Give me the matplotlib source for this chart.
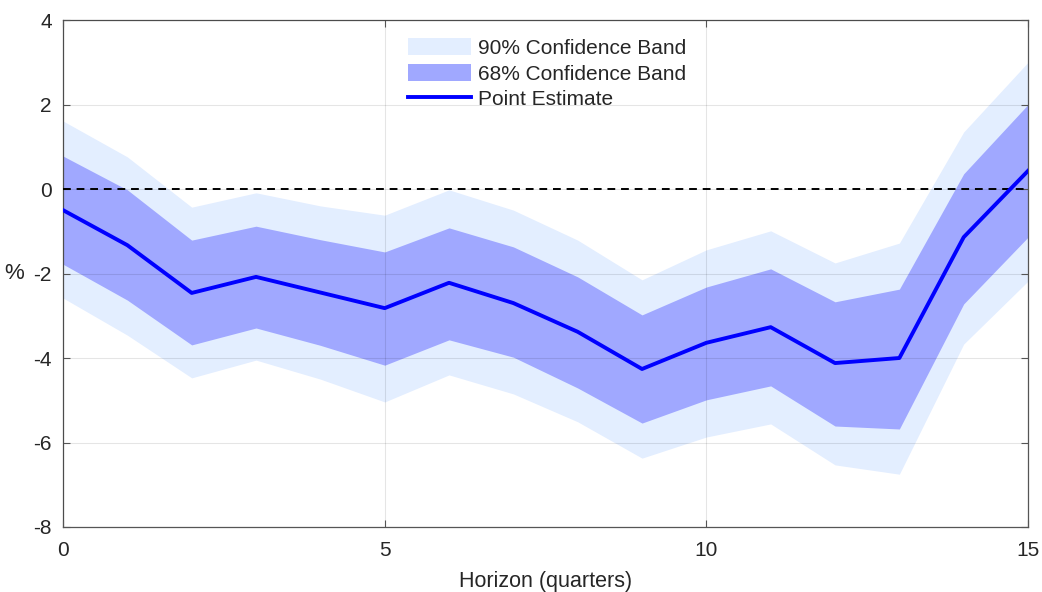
import matplotlib.pyplot as plt
import numpy as np

plt.rcParams['font.family'] = ['Liberation Sans', 'DejaVu Sans']
plt.rcParams['axes.unicode_minus'] = False

horizon = np.arange(16)
point = [-0.50, -1.33, -2.46, -2.08, -2.45, -2.82, -2.22, -2.70,
         -3.38, -4.26, -3.64, -3.27, -4.12, -4.00, -1.14, 0.43]
upper68 = [0.78, -0.02, -1.21, -0.88, -1.20, -1.49, -0.92, -1.37,
           -2.08, -2.98, -2.32, -1.89, -2.67, -2.37, 0.36, 2.00]
lower68 = [-1.78, -2.63, -3.69, -3.29, -3.70, -4.17, -3.57, -3.98,
           -4.71, -5.54, -4.99, -4.66, -5.61, -5.68, -2.72, -1.14]
upper90 = [1.61, 0.76, -0.43, -0.09, -0.40, -0.62, -0.02, -0.50,
           -1.21, -2.15, -1.44, -0.99, -1.75, -1.28, 1.35, 3.00]
lower90 = [-2.58, -3.46, -4.47, -4.05, -4.50, -5.04, -4.40, -4.85,
           -5.51, -6.37, -5.87, -5.56, -6.53, -6.75, -3.67, -2.18]

fig = plt.figure(figsize=(10.42, 5.92), dpi=100)
ax = fig.add_axes([0.0605, 0.1098, 0.9261, 0.8564])

ax.fill_between(horizon, lower90, upper90, color='#e3eeff', lw=0,
                label='90% Confidence Band', zorder=1)
ax.fill_between(horizon, lower68, upper68, color='#a0a8ff', lw=0,
                label='68% Confidence Band', zorder=2)
ax.plot(horizon, point, color='#0000ff', lw=2.8, label='Point Estimate', zorder=4)
ax.axhline(0, color='black', ls=(0, (4, 3)), lw=1.4, zorder=3)

ax.set_xlim(0, 15)
ax.set_ylim(-8, 4)
ax.set_xticks([0, 5, 10, 15])
ax.set_yticks(np.arange(-8, 5, 2))
ax.grid(True, color='#000000', alpha=0.1, lw=0.8, zorder=2.5)
ax.set_axisbelow(False)

for s in ax.spines.values():
    s.set_color('#555555')
    s.set_linewidth(0.9)
ax.tick_params(direction='in', top=True, right=True, length=5,
               labelsize=15, colors='#555555', labelcolor='#262626')
ax.tick_params(axis='x', pad=10)
ax.tick_params(axis='y', pad=8)

ax.set_xlabel('Horizon (quarters)', fontsize=15.5, color='#262626', labelpad=8)
ax.set_ylabel('%', fontsize=16, color='#262626', rotation=0, labelpad=14, va='center')

leg = ax.legend(loc='upper left', bbox_to_anchor=(0.347, 0.985), frameon=False,
                fontsize=15, handlelength=3.0, handleheight=0.9,
                labelspacing=0.28, handletextpad=0.35, borderpad=0)
for t in leg.get_texts():
    t.set_color('#262626')

fig.savefig('out.png', dpi=100)
